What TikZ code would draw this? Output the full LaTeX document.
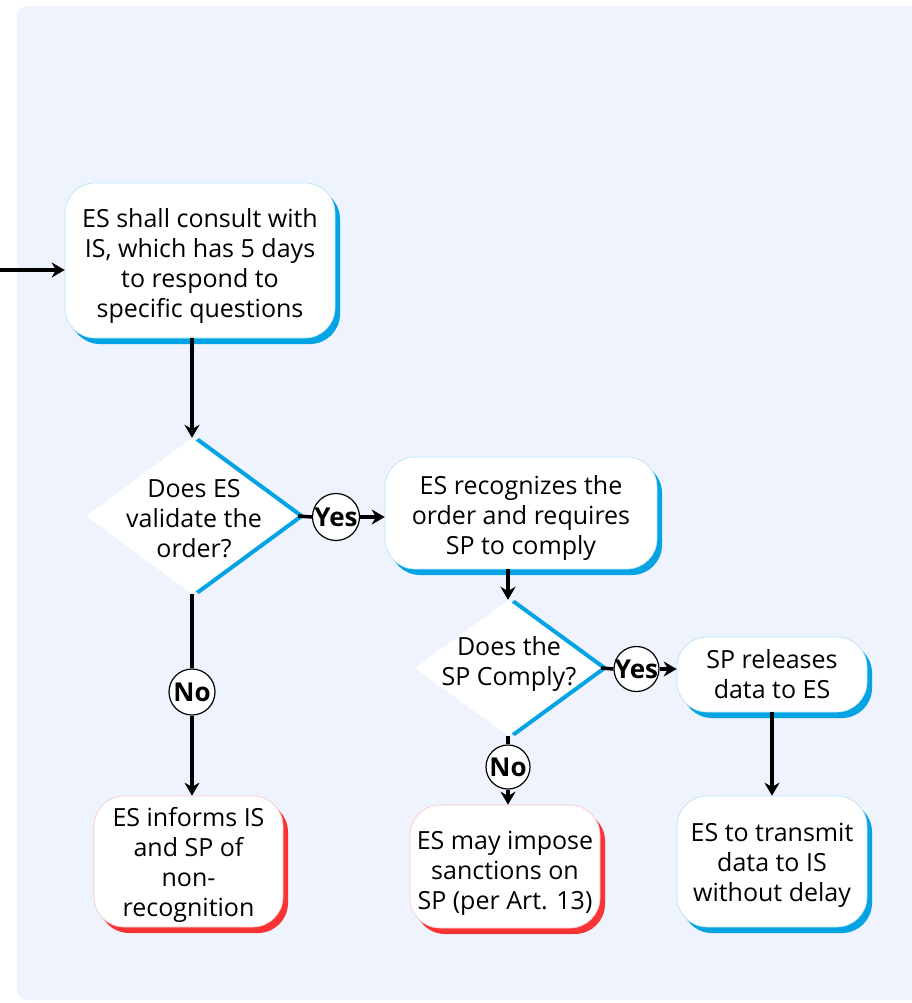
\documentclass[tikz,border=0pt]{standalone}
\usepackage{fontspec}
\setmainfont{Open Sans}
\usetikzlibrary{shapes.geometric,arrows.meta,shadows}
\definecolor{panel}{RGB}{238,243,254}
\definecolor{accblue}{RGB}{3,163,228}
\definecolor{accred}{RGB}{250,52,52}
\tikzset{
  box/.style={rectangle, rounded corners=30pt, fill=white, draw=#1!30,
    line width=0.6pt, inner sep=0pt,
    general shadow={shadow xshift=5pt, shadow yshift=-6pt, fill=#1}},
  dia/.style={diamond, fill=white, inner sep=0pt,
    general shadow={shadow xshift=7pt, shadow yshift=0pt, fill=accblue}},
  lbl/.style={align=center, inner sep=0pt, font=\fontsize{25}{30}\selectfont},
  yn/.style={circle, draw=black, line width=1.2pt, fill=white, inner sep=0pt},
  yntext/.style={inner sep=0pt, font=\fontsize{26}{28}\bfseries\selectfont},
  link/.style={line width=3.5pt, black},
  arr/.style={link, -{Stealth[length=13pt,width=15pt]}}
}
\begin{document}
\begin{tikzpicture}[x=1pt,y=-1pt]
\useasboundingbox (0,0) rectangle (911,1003);
% panel
\fill[panel, rounded corners=10pt] (17,6) rectangle (925,1000);

% process boxes
\node[box=accblue, minimum width=270pt, minimum height=155pt] (b1) at (200,260.5) {};
\node[lbl] (b1t) at ([yshift=-5.5pt]b1.center)
  {ES shall consult with\\IS, which has 5 days\\to respond to\\specific questions};
\node[box=accblue, minimum width=272pt, minimum height=112pt] (b2) at (521,513) {};
\node[lbl] (b2t) at ([yshift=-5pt]b2.center)
  {ES recognizes the\\order and requires\\SP to comply};
\node[box=accblue, minimum width=190pt, minimum height=75pt] (b3) at (772,674.5) {};
\node[lbl] (b3t) at (b3.center)
  {SP releases\\data to ES};
\node[box=accred, minimum width=189pt, minimum height=131pt] (b4) at (188.5,861.5) {};
\node[lbl] (b4t) at ([yshift=-3pt]b4.center)
  {ES informs IS\\and SP of\\non-\\recognition};
\node[box=accred, minimum width=190pt, minimum height=123pt] (b5) at (505,866.5) {};
\node[lbl] (b5t) at ([yshift=-7pt]b5.center)
  {ES may impose\\sanctions on\\SP (per Art. 13)};
\node[box=accblue, minimum width=190pt, minimum height=131pt] (b6) at (772,861.5) {};
\node[lbl] (b6t) at ([yshift=-4pt]b6.center)
  {ES to transmit\\data to IS\\without delay};

% decisions
\node[dia, minimum width=212pt, minimum height=156pt] (d1) at (192,516) {};
\node[lbl] (d1t) at (194,519) {Does ES\\validate the\\order?};
\node[dia, minimum width=186pt, minimum height=136pt] (d2) at (508,668) {};
\node[lbl] (d2t) at (509,664) {Does the\\SP Comply?};

% yes / no markers
\node[yn, minimum size=47pt] (y1) at (336,517) {};
\node[yntext] (y1t) at (y1) {Yes};
\node[yn, minimum size=45pt] (y2) at (636.5,669) {};
\node[yntext] (y2t) at (y2) {Yes};
\node[yn, minimum size=46pt] (n1) at (192,692) {};
\node[yntext] (n1t) at (n1) {No};
\node[yn, minimum size=44pt] (n2) at (508,767) {};
\node[yntext] (n2t) at (n2) {No};

% connectors
\coordinate (start) at (0,270);
\draw[arr] (start) -- (start -| b1.west);
\draw[arr] (d1.north |- b1.south) -- (d1.north);
\draw[link] (d1.east) -- (y1.west);
\draw[arr] (y1.east) -- (y1.east -| b2.west);
\draw[arr] (d2.north |- b2.south) -- (d2.north);
\draw[link] (d2.east) -- (y2.west);
\draw[arr] (y2.east) -- (y2.east -| b3.west);
\draw[arr] (b3.south) -- (b3.south |- b6.north);
\draw[link] (d2.south) -- (n2.north);
\draw[arr] (n2.south) -- (n2.south |- b5.north);
\draw[link] (d1.south) -- (n1.north);
\draw[arr] (n1.south) -- (n1.south |- b4.north);
\end{tikzpicture}
\end{document}
